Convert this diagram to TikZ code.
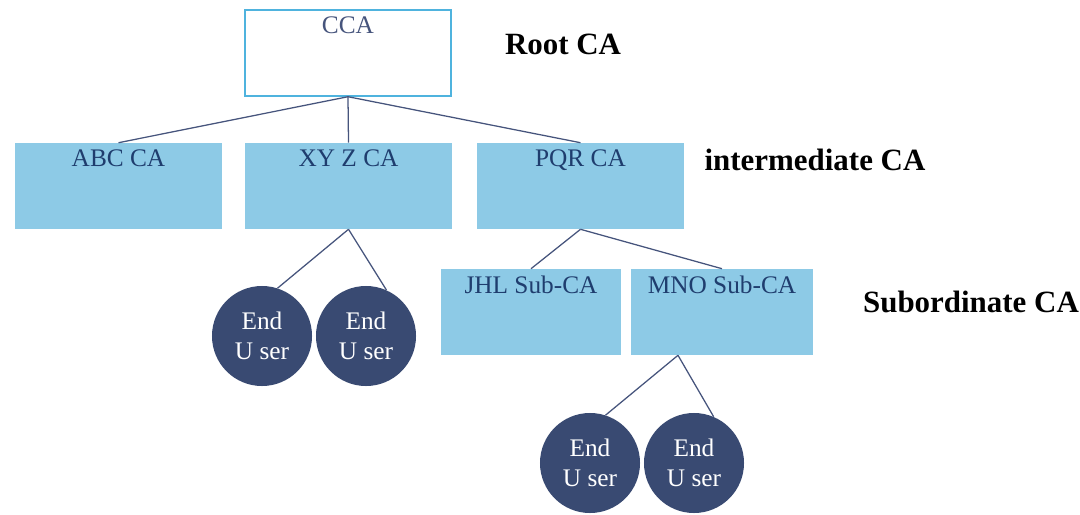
\documentclass[tikz,border=0pt]{standalone}
\usepackage{fontspec}
\setmainfont{Liberation Serif}
\usetikzlibrary{calc}

\definecolor{boxblue}{HTML}{8DCAE6}
\definecolor{rootedge}{HTML}{4FB3DE}
\definecolor{userblue}{HTML}{394A72}
\definecolor{linkblue}{HTML}{46547C}
\definecolor{textblue}{HTML}{1F3D6E}

\begin{document}
\begin{tikzpicture}[x=0.025cm,y=-0.025cm,
    ca/.style={rectangle,fill=boxblue,minimum width=5.175cm,minimum height=2.15cm,inner sep=0pt},
    subca/.style={ca,minimum width=4.5cm},
    catext/.style={anchor=north,inner sep=5pt,text=textblue,font=\fontsize{18}{20}\selectfont},
    user/.style={circle,fill=userblue,minimum size=2.5cm,inner sep=0pt,text=white,align=center,
      font=\fontsize{18}{21}\selectfont},
    level/.style={font=\fontsize{22}{24}\selectfont\bfseries},
    link/.style={draw=linkblue,line width=0.9pt}]
  \useasboundingbox (0,0) rectangle (1080,514);

  % root
  \node [ca,fill=white,draw=rootedge,line width=1pt,minimum width=5.15cm,minimum height=2.15cm,
    label={[catext,text=linkblue]north:CCA}] (cca) at (348,53) {};
  \node [level] (rootlbl) at (563,44) {Root CA};

  % intermediate
  \node [ca,label={[catext]north:ABC CA}] (abc) at (118.5,186) {};
  \node [ca,label={[catext]north:XY Z CA}] (xyz) at (348.5,186) {};
  \node [ca,label={[catext]north:PQR CA}] (pqr) at (580.5,186) {};
  \node [level] (intlbl) at (815,160) {intermediate CA};

  % subordinate
  \node [subca,label={[catext]north:JHL Sub-CA}] (jhl) at (531,312) {};
  \node [subca,minimum width=4.55cm,label={[catext]north:MNO Sub-CA}] (mno) at (722,312) {};
  \node [level] (sublbl) at (971,302) {Subordinate CA};

  % end users
  \node [user] (eu1) at (262,336) {End\\U ser};
  \node [user] (eu2) at (366,336) {End\\U ser};
  \node [user] (eu3) at (590,463) {End\\U ser};
  \node [user] (eu4) at (694,463) {End\\U ser};
  \coordinate (mnofoot) at ([xshift=-1.1cm]mno.south);

  \draw [link] (cca.south) -- (abc.north);
  \draw [link] (cca.south) -- (xyz.north);
  \draw [link] (cca.south) -- (pqr.north);
  \draw [link] (xyz.south) -- (eu1.72);
  \draw [link] (xyz.south) -- (eu2.66);
  \draw [link] (pqr.south) -- (jhl.north);
  \draw [link] (pqr.south) -- (mno.north);
  \draw [link] (mnofoot) -- (eu3.72);
  \draw [link] (mnofoot) -- (eu4.67);
\end{tikzpicture}
\end{document}
